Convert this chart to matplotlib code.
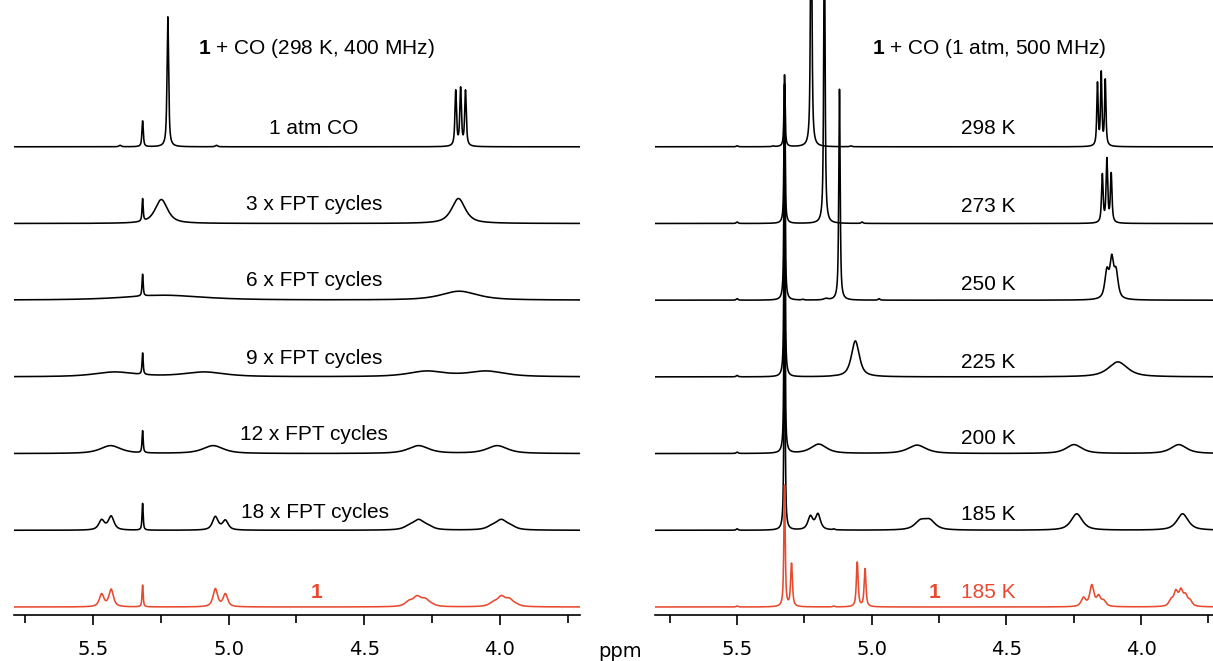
import numpy as np
import matplotlib
matplotlib.use("Agg")
import matplotlib.pyplot as plt
from matplotlib.ticker import MultipleLocator

# ---------------- data: peak lists (ppm, apparent height, FWHM ppm) ----------------
left_labels = ["1 atm CO", "3 x FPT cycles", "6 x FPT cycles", "9 x FPT cycles",
               "12 x FPT cycles", "18 x FPT cycles"]
right_labels = ["298 K", "273 K", "250 K", "225 K", "200 K", "185 K"]

left_1atm = [(5.40, 1.5, 0.01), (5.317, 26, 0.006), (5.224, 130, 0.007), (5.045, 1.5, 0.01),
             (4.163, 57, 0.007), (4.145, 60, 0.007), (4.127, 57, 0.007)]
left_3x = [(5.317, 25, 0.005), (5.248, 24, 0.055), (4.153, 25, 0.06)]
left_6x = [(5.317, 26, 0.005), (5.24, 5, 0.35), (4.15, 9, 0.16)]
left_9x = [(5.317, 24, 0.005), (5.42, 5, 0.18), (5.09, 5, 0.18), (4.27, 6, 0.16), (4.05, 6, 0.16)]
left_12x = [(5.317, 23, 0.005), (5.435, 8, 0.09), (5.057, 8, 0.09), (4.30, 8, 0.09), (4.01, 8, 0.09)]
left_18x = [(5.468, 11, 0.025), (5.433, 14.5, 0.025), (5.317, 27, 0.005), (5.049, 14, 0.025),
            (5.012, 10.5, 0.025), (4.335, 6, 0.045), (4.30, 11, 0.05), (4.265, 6, 0.045),
            (4.03, 6, 0.045), (3.995, 11, 0.05), (3.96, 6, 0.045)]
left_cmpd1 = [(5.468, 13.5, 0.02), (5.433, 18, 0.02), (5.317, 22, 0.005), (5.049, 18.5, 0.02),
              (5.012, 13.5, 0.02), (4.335, 7, 0.035), (4.305, 11.5, 0.035), (4.275, 9, 0.035),
              (4.25, 4, 0.03), (4.025, 6, 0.035), (3.995, 11.5, 0.035), (3.965, 9, 0.035),
              (3.94, 4, 0.03)]

right_298 = [(5.50, 1, 0.008), (5.366, 1, 0.008), (5.324, 72, 0.005), (5.225, 300, 0.006),
             (5.078, 1, 0.008), (4.162, 65, 0.006), (4.148, 76, 0.006), (4.133, 68, 0.006)]
right_273 = [(5.50, 1.5, 0.008), (5.324, 140, 0.005), (5.176, 300, 0.006), (5.036, 1.5, 0.008),
             (4.144, 50, 0.007), (4.127, 66, 0.007), (4.111, 51, 0.007)]
right_250 = [(5.50, 1.5, 0.008), (5.256, 1, 0.008), (5.324, 215, 0.005), (5.17, 2, 0.02),
             (5.12, 211, 0.006), (4.973, 1.5, 0.008), (4.127, 33, 0.018), (4.109, 46, 0.016),
             (4.093, 33, 0.018)]
right_225 = [(5.50, 1.5, 0.008), (5.324, 240, 0.005), (5.141, 1.5, 0.008), (5.061, 36, 0.035),
             (4.086, 15, 0.085)]
right_200 = [(5.50, 1.5, 0.008), (5.324, 240, 0.005), (5.197, 9.5, 0.07), (5.141, 1.5, 0.008),
             (4.832, 8.5, 0.08), (4.249, 9, 0.07), (3.860, 9, 0.07)]
right_185 = [(5.50, 1.5, 0.008), (5.324, 250, 0.005), (5.228, 15, 0.022), (5.200, 17, 0.022),
             (5.141, 1.5, 0.008), (4.82, 11, 0.05), (4.785, 11.5, 0.05), (4.239, 16.5, 0.05),
             (3.846, 16.5, 0.05)]
right_cmpd1 = [(5.50, 1, 0.008), (5.324, 122, 0.006), (5.298, 44, 0.008), (5.141, 1, 0.008),
               (5.054, 45, 0.008), (5.025, 38.5, 0.008), (4.214, 10, 0.02), (4.183, 22.5, 0.018),
               (4.158, 12.5, 0.018), (4.139, 7.5, 0.02), (3.889, 9, 0.018), (3.871, 17.5, 0.018),
               (3.852, 19, 0.018), (3.835, 14, 0.018), (3.818, 8, 0.018)]

left_spectra = [left_1atm, left_3x, left_6x, left_9x, left_12x, left_18x]
right_spectra = [right_298, right_273, right_250, right_225, right_200, right_185]

major_ticks = [5.5, 5.0, 4.5, 4.0]

# ---------------- helpers ----------------
W, H = 1213, 661
BLACK = "#000000"
RED = "#E84A2F"

plt.rcParams["mathtext.fontset"] = "custom"
plt.rcParams["mathtext.rm"] = "Liberation Sans"
plt.rcParams["mathtext.bf"] = "Liberation Sans:bold"

ppm = np.linspace(5.9, 3.6, 12000)


def shape(x, x0, w, eta=0.75):
    hw = w / 2.0
    lor = hw ** 2 / ((x - x0) ** 2 + hw ** 2)
    gau = np.exp(-np.log(2) * ((x - x0) / hw) ** 2)
    return eta * lor + (1 - eta) * gau


def spectrum(peaks):
    pos = np.array([p[0] for p in peaks])
    hts = np.array([p[1] for p in peaks], float)
    wid = np.array([p[2] for p in peaks])
    M = np.array([[shape(pi, pj, wj) for pj, wj in zip(pos, wid)] for pi in pos])
    amp = np.clip(np.linalg.solve(M, hts), 0, None)
    y = np.zeros_like(ppm)
    for a, p, w in zip(amp, pos, wid):
        y += a * shape(ppm, p, w)
    return y


fig = plt.figure(figsize=(W / 100, H / 100), dpi=100)


def px_axes(x0, x1):
    return fig.add_axes([x0 / W, 1 - 615 / H, (x1 - x0) / W, 615 / H])


axL = px_axes(14, 580)
axR = px_axes(655, 1213)

base0 = 8.0
step = 76.7

for ax, spectra, cmpd, xlim in [(axL, left_spectra, left_cmpd1, (5.791, 3.705)),
                                 (axR, right_spectra, right_cmpd1, (5.805, 3.733))]:
    n = len(spectra)
    for i, pk in enumerate(spectra):
        off = base0 + step * (n - i)
        ax.plot(ppm, spectrum(pk) + off, color=BLACK, lw=1.15)
    ax.plot(ppm, spectrum(cmpd) + base0, color=RED, lw=1.15)
    ax.set_xlim(*xlim)
    ax.set_ylim(0, 615)
    for s in ["left", "right", "top"]:
        ax.spines[s].set_visible(False)
    ax.spines["bottom"].set_linewidth(1.2)
    ax.set_yticks([])
    ax.set_xticks(major_ticks)
    ax.set_xticklabels([f"{t:.1f}" for t in major_ticks])
    ax.xaxis.set_minor_locator(MultipleLocator(0.25))
    ax.tick_params(axis="x", which="major", direction="out", length=7, width=1.2,
                   pad=11, labelsize=14)
    ax.tick_params(axis="x", which="minor", direction="out", length=6, width=1.2)
    ax.patch.set_alpha(0)


def ftext(x, y, s, **kw):
    kw.setdefault("fontsize", 15)
    kw.setdefault("family", "Liberation Sans")
    kw.setdefault("ha", "center")
    kw.setdefault("va", "center")
    fig.text(x / W, 1 - y / H, s, **kw)


ftext(316, 48, r"$\mathbf{1}$ + CO (298 K, 400 MHz)")
ftext(989, 48, r"$\mathbf{1}$ + CO (1 atm, 500 MHz)")

left_label_xy = [(314, 129), (314, 205), (314, 281), (314, 358), (314, 435), (315, 512)]
right_label_xy = [(988, 129), (988, 207), (988, 284), (988, 362), (988, 439), (988, 515)]
for (x, y), s in zip(left_label_xy, left_labels):
    ftext(x, y, s)
for (x, y), s in zip(right_label_xy, right_labels):
    ftext(x, y, s)

ftext(316, 592, "1", color=RED, fontweight="bold")
ftext(935, 592, "1", color=RED, fontweight="bold")
ftext(988, 592, "185 K", color=RED)

fig.text(620 / W, 1 - 657 / H, "ppm", fontsize=14, family="DejaVu Sans",
         ha="center", va="baseline")

fig.savefig("out.png", dpi=100)
